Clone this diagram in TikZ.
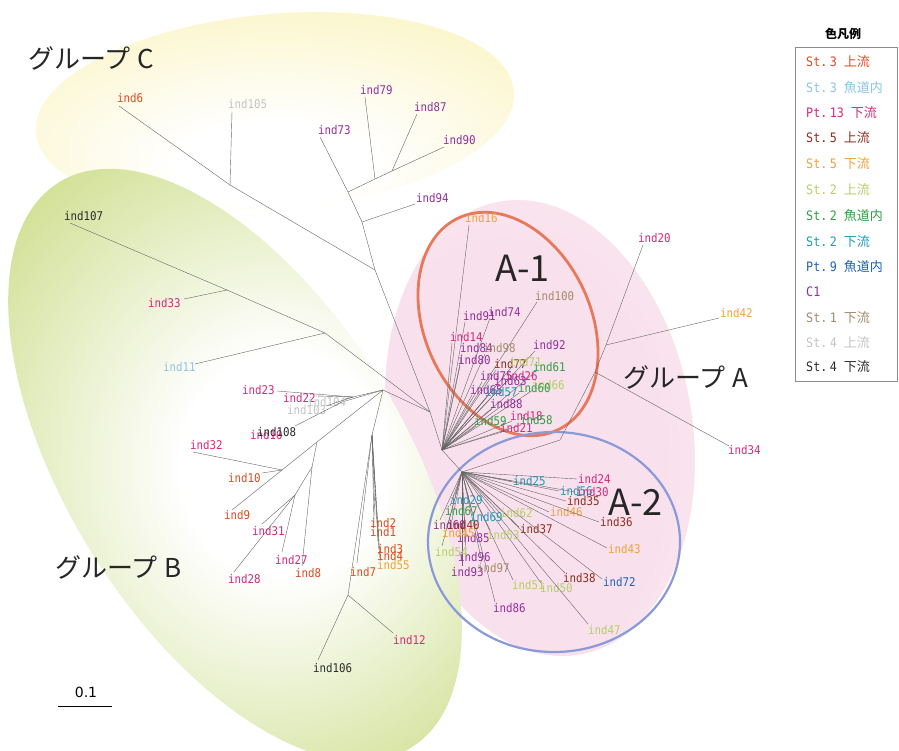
\documentclass[tikz,border=0pt]{standalone}
\usepackage{fontspec}
\setmainfont{DejaVu Sans}
\newfontfamily\jp{Noto Sans CJK JP}
\newfontfamily\mono[FakeStretch=0.9]{DejaVu Sans Mono}
\definecolor{cAup}{HTML}{E04A1E}
\definecolor{cAfish}{HTML}{8CC4E6}
\definecolor{pDown}{HTML}{D8287C}
\definecolor{cFup}{HTML}{8E2E1E}
\definecolor{cFdown}{HTML}{F0A23A}
\definecolor{cTup}{HTML}{B5CF6B}
\definecolor{cTfish}{HTML}{2FA043}
\definecolor{cTdown}{HTML}{1E9BB5}
\definecolor{pNfish}{HTML}{1F63B3}
\definecolor{cCone}{HTML}{93309E}
\definecolor{cOdown}{HTML}{A58A6C}
\definecolor{cGup}{HTML}{C4C4C4}
\definecolor{cGdown}{HTML}{2B2B2B}
\definecolor{Cyel}{HTML}{F9F1B0}
\definecolor{Bgrn}{HTML}{C2D672}
\definecolor{Apink}{HTML}{F8E0EC}
\definecolor{Aone}{HTML}{E8785A}
\definecolor{Atwo}{HTML}{8A9AD8}
\pgfdeclareradialshading{shadeC}{\pgfpoint{0bp}{-14bp}}{color(0bp)=(white);color(10bp)=(white);color(44bp)=(Cyel);color(50bp)=(Cyel)}
\pgfdeclareradialshading{shadeB}{\pgfpoint{6bp}{0bp}}{color(0bp)=(white);color(10bp)=(white);color(40bp)=(Bgrn);color(50bp)=(Bgrn)}
\pgfdeclareradialshading{shadeA}{\pgfpoint{-10bp}{-8bp}}{color(0bp)=(Apink);color(22bp)=(Apink);color(40bp)=(Apink!55);color(50bp)=(white)}
\newcommand{\leaf}[6]{\node[lab,text=#3] (#1) at (#2) {#4};\coordinate (#1t) at (#5);\draw[br] (#6) -- (#1t);}
\newcommand{\stn}[1]{\mono #1}
\tikzset{
  lab/.style={anchor=west, inner sep=0pt, font=\mono\fontsize{12}{13}\selectfont},
  br/.style={draw=black!60, line width=0.4pt},
  leg/.style={anchor=west, inner sep=0pt, font=\fontsize{13}{15}\selectfont},
  grp/.style={anchor=west, inner sep=0pt, font=\jp\fontsize{26}{30}\selectfont, text=black!85},
  sub/.style={anchor=west, inner sep=0pt, font=\jp\fontsize{36}{40}\selectfont, text=black!85},
}
\begin{document}
\begin{tikzpicture}[x=1pt,y=-1pt]
\useasboundingbox (0,0) rectangle (899,751);
\fill[white] (0,0) rectangle (899,751);
% group backgrounds
\shade[shading=shadeC, rotate around={5:(275,112)}] (275,112) ellipse [x radius=240, y radius=98];
\shade[shading=shadeA, rotate around={-80:(540,428)}] (540,428) ellipse [x radius=230, y radius=152];
\shade[shading=shadeB, rotate around={-58:(235,465)}] (235,465) ellipse [x radius=333, y radius=168];
\draw[Aone, line width=2.8pt, rotate around={-65:(508,324)}] (508,324) ellipse [x radius=117, y radius=83];
\draw[Atwo, line width=2.2pt] (554,542) ellipse [x radius=126, y radius=110];
% group labels
\node[grp] (gC) at (28,58) {グループ\hspace{7pt}C};
\node[grp] (gB) at (55,567) {グループ\hspace{7pt}B};
\node[grp] (gA) at (623,377) {グループ\hspace{7pt}A};
\node[sub] (sA1) at (495,268) {A-1};
\node[sub] (sA2) at (608,502) {A-2};
% internal nodes
\coordinate (R) at (430,412);
\coordinate (C1) at (230,185);
\coordinate (CN) at (375,270);
\coordinate (P1) at (348,192);
\coordinate (P2) at (375,179);
\coordinate (P3) at (392,171);
\coordinate (P4) at (362,222);
\coordinate (N107) at (325,333);
\coordinate (Q33) at (227,290);
\coordinate (B1) at (383,390);
\coordinate (B2) at (353,397);
\coordinate (B3) at (342,402);
\coordinate (B5) at (317,442);
\coordinate (B6) at (312,467);
\coordinate (B7) at (295,495);
\coordinate (B8) at (282,470);
\coordinate (B9) at (372,435);
\coordinate (J) at (348,595);
\coordinate (F1) at (442,450);
\coordinate (F2) at (462,472);
\coordinate (AJ1) at (606,345);
\coordinate (AJ2) at (595,372);
\coordinate (AJ3) at (560,440);
\draw[br] (C1) -- (CN) -- (R);
\draw[br] (P3) -- (P2) -- (P1) -- (P4) -- (CN);
\draw[br] (Q33) -- (N107) -- (R);
\draw[br] (R) -- (B1) -- (B2);
\draw[br] (B1) -- (B3);
\draw[br] (B1) -- (B5) -- (B8);
\draw[br] (B5) -- (B6) -- (B7);
\draw[br] (B1) -- (B9) -- (J);
\draw[br] (R) -- (F1) -- (F2);
\draw[br] (AJ1) -- (AJ2) -- (AJ3) -- (F2);
% group C leaves
\leaf{ind6}{117,98}{cAup}{ind6}{119,106}{C1}
\leaf{ind105}{228,104}{cGup}{ind105}{232,112}{C1}
\leaf{ind73}{318,130}{cCone}{ind73}{320,137}{P1}
\leaf{ind79}{360,90}{cCone}{ind79}{365,97}{P2}
\leaf{ind87}{414,107}{cCone}{ind87}{417,114}{P3}
\leaf{ind90}{443,140}{cCone}{ind90}{444,147}{P3}
\leaf{ind94}{416,198}{cCone}{ind94}{415,204}{P4}
% group B leaves
\leaf{ind107}{64,216}{cGdown}{ind107}{70,223}{Q33}
\leaf{ind33}{148,303}{pDown}{ind33}{184,299}{Q33}
\leaf{ind11}{163,367}{cAfish}{ind11}{195,364}{N107}
\leaf{ind23}{242,390}{pDown}{ind23}{277,391}{B2}
\leaf{ind22}{283,398}{pDown}{ind22}{316,396}{B2}
\leaf{ind104}{307,402}{cGup}{ind104}{345,399}{B2}
\leaf{ind103}{287,410}{cGup}{ind103}{326,406}{B2}
\node[lab, text=pDown] (ind10m) at (250,435) {ind10};
\leaf{ind108}{257,432}{cGdown}{ind108}{295,426}{B3}
\leaf{ind32}{190,445}{pDown}{ind32}{193,452}{B8}
\leaf{ind10}{228,478}{cAup}{ind10}{262,473}{B8}
\leaf{ind9}{224,515}{cAup}{ind9}{232,510}{B8}
\leaf{ind31}{252,531}{pDown}{ind31}{262,524}{B7}
\leaf{ind28}{228,579}{pDown}{ind28}{234,572}{B7}
\leaf{ind27}{275,560}{pDown}{ind27}{282,552}{B7}
\leaf{ind8}{295,573}{cAup}{ind8}{302,566}{B6}
\leaf{ind2}{370,523}{cAup}{ind2}{375,516}{B9}
\leaf{ind1}{370,532}{cAup}{ind1}{374,525}{B9}
\leaf{ind3}{377,549}{cAup}{ind3}{378,542}{B9}
\leaf{ind4}{377,556}{cAup}{ind4}{379,550}{B9}
\leaf{ind55}{377,565}{cFdown}{ind55}{380,558}{B9}
\leaf{ind7}{350,572}{cAup}{ind7}{357,563}{B9}
\leaf{ind12}{393,640}{pDown}{ind12}{393,633}{J}
\leaf{ind106}{313,668}{cGdown}{ind106}{318,660}{J}
% group A outer
\leaf{ind20}{638,238}{pDown}{ind20}{643,245}{AJ1}
\leaf{ind42}{720,313}{cFdown}{ind42}{719,318}{AJ1}
\leaf{ind34}{728,450}{pDown}{ind34}{729,446}{AJ2}
% A-1 leaves
\leaf{a16}{465,218}{cFdown}{ind16}{469,225}{F1}
\leaf{a100}{535,296}{cOdown}{ind100}{537,302}{F1}
\leaf{a74}{488,312}{cCone}{ind74}{490,318}{F1}
\leaf{a91}{463,316}{cCone}{ind91}{465,322}{F1}
\leaf{a14}{450,337}{pDown}{ind14}{452,343}{F1}
\leaf{a84}{460,348}{cCone}{ind84}{462,354}{F1}
\leaf{a98}{483,348}{cOdown}{ind98}{485,354}{F1}
\leaf{a92}{533,345}{cCone}{ind92}{535,351}{F1}
\leaf{a80}{458,360}{cCone}{ind80}{460,366}{F1}
\leaf{a77}{494,364}{cFup}{ind77}{496,370}{F1}
\leaf{a71}{509,362}{cTup}{ind71}{511,368}{F1}
\leaf{a61}{533,367}{cTfish}{ind61}{534,373}{F1}
\leaf{a75}{480,376}{cCone}{ind75}{482,382}{F1}
\leaf{a26}{505,376}{pDown}{ind26}{507,381}{F1}
\leaf{a63}{494,381}{cCone}{ind63}{496,386}{F1}
\leaf{a66}{532,385}{cTup}{ind66}{533,390}{F1}
\leaf{a60}{518,388}{cTfish}{ind60}{519,393}{F1}
\leaf{a65}{470,390}{cCone}{ind65}{472,395}{F1}
\leaf{a57}{485,392}{cTdown}{ind57}{487,397}{F1}
\leaf{a88}{490,404}{cCone}{ind88}{492,409}{F1}
\leaf{a18}{510,416}{pDown}{ind18}{512,421}{F1}
\leaf{a58}{520,420}{cTfish}{ind58}{521,425}{F1}
\leaf{a59}{474,421}{cTfish}{ind59}{476,426}{F1}
\leaf{a21}{500,428}{pDown}{ind21}{502,432}{F1}
% A-2 leaves
\leaf{b25}{513,481}{cTdown}{ind25}{512,481}{F2}
\leaf{b24}{578,479}{pDown}{ind24}{577,479}{F2}
\leaf{b56}{560,491}{cTdown}{ind56}{559,491}{F2}
\leaf{b30}{576,492}{pDown}{ind30}{575,492}{F2}
\leaf{b35}{567,501}{cFup}{ind35}{566,501}{F2}
\leaf{b46}{550,512}{cFdown}{ind46}{549,512}{F2}
\leaf{b36}{600,522}{cFup}{ind36}{599,522}{F2}
\leaf{b37}{520,529}{cFup}{ind37}{519,527}{F2}
\leaf{b43}{608,549}{cFdown}{ind43}{607,548}{F2}
\leaf{b38}{563,578}{cFup}{ind38}{565,573}{F2}
\leaf{b72}{603,582}{pNfish}{ind72}{602,579}{F2}
\leaf{b51}{512,585}{cTup}{ind51}{513,580}{F2}
\leaf{b50}{540,588}{cTup}{ind50}{541,583}{F2}
\leaf{b86}{493,608}{cCone}{ind86}{495,602}{F2}
\leaf{b47}{588,630}{cTup}{ind47}{588,624}{F2}
\leaf{b93}{451,572}{cCone}{ind93}{462,566}{F2}
\leaf{b97}{477,568}{cOdown}{ind97}{482,562}{F2}
\leaf{b96}{458,557}{cCone}{ind96}{466,551}{F2}
\leaf{b54}{435,552}{cTup}{ind54}{442,546}{F2}
\leaf{b85}{457,538}{cCone}{ind85}{465,532}{F2}
\leaf{b53}{487,535}{cTup}{ind53}{490,530}{F2}
\leaf{b60}{433,525}{cCone}{ind60}{440,520}{F2}
\leaf{b40}{447,525}{cFup}{ind40}{452,520}{F2}
\leaf{b45}{442,533}{cFdown}{ind45}{447,528}{F2}
\leaf{b29}{450,500}{cTdown}{ind29}{455,495}{F2}
\leaf{b67}{445,511}{cTfish}{ind67}{450,506}{F2}
\leaf{b69}{470,517}{cTdown}{ind69}{472,512}{F2}
\leaf{b62}{500,513}{cTup}{ind62}{500,513}{F2}
% scale bar
\node[anchor=center, inner sep=0pt, font=\fontsize{14}{16}\selectfont] (scl) at (86,692) {0.1};
\coordinate (sb1) at (58,706);
\coordinate (sb2) at (112,706);
\draw[black, line width=0.6pt] (sb1) -- (sb2);
% legend
\node[anchor=center, inner sep=0pt, font=\jp\bfseries\fontsize{12}{14}\selectfont] (legT) at (843,34) {色凡例};
\draw[black!45, line width=0.6pt] (795,47) rectangle (897,381);
\node[leg, text=cAup] (l1) at (806,62) {\stn{St.\hspace{2.5pt}3} \jp 上流};
\node[leg, text=cAfish] (l2) at (806,88) {\stn{St.\hspace{2.5pt}3} \jp 魚道内};
\node[leg, text=pDown] (l3) at (806,113) {\stn{Pt.\hspace{2.5pt}13} \jp 下流};
\node[leg, text=cFup] (l4) at (806,138) {\stn{St.\hspace{2.5pt}5} \jp 上流};
\node[leg, text=cFdown] (l5) at (806,164) {\stn{St.\hspace{2.5pt}5} \jp 下流};
\node[leg, text=cTup] (l6) at (806,190) {\stn{St.\hspace{2.5pt}2} \jp 上流};
\node[leg, text=cTfish] (l7) at (806,216) {\stn{St.\hspace{2.5pt}2} \jp 魚道内};
\node[leg, text=cTdown] (l8) at (806,242) {\stn{St.\hspace{2.5pt}2} \jp 下流};
\node[leg, text=pNfish] (l9) at (806,267) {\stn{Pt.\hspace{2.5pt}9} \jp 魚道内};
\node[leg, text=cCone] (l10) at (806,292) {\stn{C1}};
\node[leg, text=cOdown] (l11) at (806,318) {\stn{St.\hspace{2.5pt}1} \jp 下流};
\node[leg, text=cGup] (l12) at (806,343) {\stn{St.\hspace{2.5pt}4} \jp 上流};
\node[leg, text=cGdown] (l13) at (806,367) {\stn{St.\hspace{2.5pt}4} \jp 下流};
\end{tikzpicture}
\end{document}
